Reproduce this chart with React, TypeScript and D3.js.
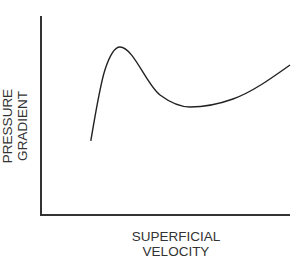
import React from "react";
import * as d3 from "d3";

const velocity = [2.0, 2.57, 3.17, 4.78, 5.98, 7.71, 10];
const pressureGradient = [3.72, 7.3, 8.44, 6.03, 5.43, 5.83, 7.54];
const xTitle = ["SUPERFICIAL", "VELOCITY"];
const yTitle = ["PRESSURE", "GRADIENT"];

const W = 297, H = 275;
const left = 41, right = 290, top = 16, bottom = 215;

export default function App() {
  const x = d3.scaleLinear().domain([0, 10]).range([left, right]);
  const y = d3.scaleLinear().domain([0, 10]).range([bottom, top]);
  const pts = velocity.map((v, i) => [v, pressureGradient[i]] as [number, number]);
  const line = d3.line<[number, number]>()
    .x(d => x(d[0]))
    .y(d => y(d[1]))
    .curve(d3.curveMonotoneX);
  const font = "'Liberation Sans', Arial, sans-serif";
  return (
    <svg width={W} height={H} style={{ position: "absolute", left: 0, top: 0, background: "#fff" }}>
      <path d={`M${left},${top}V${bottom}H${right}`} fill="none" stroke="#333" strokeWidth={2} />
      <path d={line(pts) || ""} fill="none" stroke="#222" strokeWidth={1.4} />
      {xTitle.map((t, i) => (
        <text key={t} x={176} y={241 + i * 15} textAnchor="middle" fontFamily={font} fontSize={13.5} fill="#333">{t}</text>
      ))}
      {yTitle.map((t, i) => (
        <text key={t} transform={`translate(${12.3 + i * 14.7},126) rotate(-90)`} textAnchor="middle" fontFamily={font} fontSize={13.5} fill="#333">{t}</text>
      ))}
    </svg>
  );
}
